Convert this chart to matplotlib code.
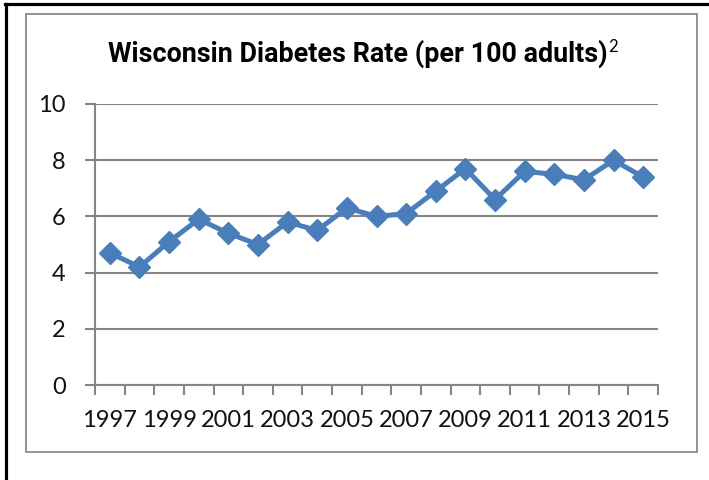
import matplotlib.pyplot as plt
from matplotlib.patches import Rectangle
from matplotlib.lines import Line2D

years = list(range(1997, 2016))
rates = [4.7, 4.2, 5.1, 5.9, 5.4, 5.0, 5.8, 5.5, 6.3, 6.0,
         6.1, 6.9, 7.7, 6.6, 7.6, 7.5, 7.3, 8.0, 7.4]
yticks = [0, 2, 4, 6, 8, 10]

plt.rcParams['font.family'] = ['Lato', 'DejaVu Sans']
W, H = 709, 480
fig = plt.figure(figsize=(W / 100, H / 100), dpi=100)

# outer black frame (left + top only visible)
fig.add_artist(Line2D([6 / W, 6 / W], [0, 1 - 4 / H], color='black', lw=2.3))
fig.add_artist(Line2D([5 / W, 707 / W], [1 - 4 / H, 1 - 4 / H], color='black', lw=2.3))
# chart area gray frame
fig.add_artist(Rectangle((26 / W, 1 - 452 / H), (697 - 26) / W, (452 - 14) / H,
                         fill=False, edgecolor='#8c8c8c', lw=1.3))

ax = fig.add_axes([95 / W, 1 - 385 / H, (658 - 95) / W, (385 - 104) / H])
x = list(range(len(years)))
ax.plot(x, rates, color='#4a7ebb', lw=3.6, marker='D', markersize=11,
        markerfacecolor='#4a7ebb', markeredgecolor='#4a7ebb', solid_joinstyle='round')

ax.set_xlim(-0.5, len(years) - 0.5)
ax.set_ylim(0, 10)
ax.set_yticks(yticks)
ax.grid(axis='y', color='#868686', lw=1.5)
ax.set_axisbelow(True)

ax.set_xticks(x[::2])
ax.set_xticklabels([str(y) for y in years[::2]])
ax.set_xticks([i - 0.5 for i in range(len(years) + 1)], minor=True)
ax.tick_params(axis='x', which='major', length=0, pad=18, labelsize=17, labelcolor='#111111')
ax.tick_params(axis='x', which='minor', length=7, width=1.5, color='#868686', direction='out')
ax.tick_params(axis='y', length=7, width=1.5, color='#868686', pad=14, labelsize=17,
               labelcolor='#111111')

for s in ['top', 'right']:
    ax.spines[s].set_visible(False)
for s in ['left', 'bottom']:
    ax.spines[s].set_color('#868686')
    ax.spines[s].set_linewidth(1.5)

t = fig.text(108 / W, 1 - 62 / H, 'Wisconsin Diabetes Rate (per 100 adults)',
             ha='left', va='baseline', fontsize=19.4, fontweight='bold',
             family=['Roboto', 'DejaVu Sans'])
fig.canvas.draw()
bb = t.get_window_extent()
fig.text((bb.x1 + 1) / W, 1 - 52.5 / H, '2', ha='left', va='baseline', fontsize=12)

fig.savefig('out.png', dpi=100)
